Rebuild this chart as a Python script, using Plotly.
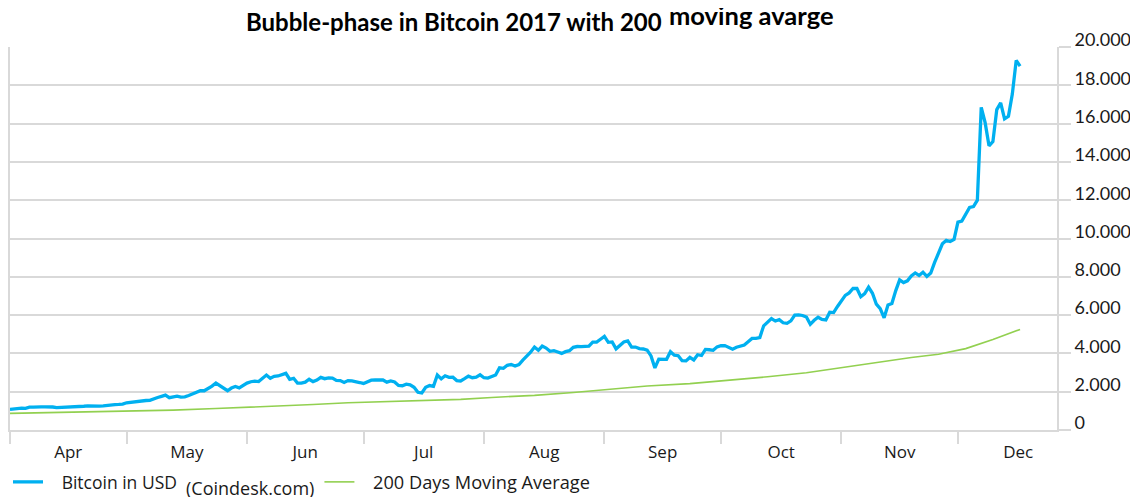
import pandas as pd
import plotly.graph_objects as go

# ---- data ----
months = ["Apr", "May", "Jun", "Jul", "Aug", "Sep", "Oct", "Nov", "Dec"]

btc_apr = [1080, 1100, 1145, 1140, 1130, 1190, 1190, 1180, 1205, 1205, 1210, 1200, 1170, 1175, 1180,
           1180, 1195, 1205, 1210, 1240, 1255, 1240, 1250, 1250, 1265, 1285, 1340, 1330, 1335, 1350]
btc_may = [1420, 1450, 1480, 1520, 1520, 1540, 1550, 1640, 1700, 1760, 1820, 1690, 1730, 1770, 1720,
           1730, 1800, 1880, 1960, 2050, 2050, 2150, 2290, 2450, 2320, 2200, 2050, 2190, 2270, 2200, 2330]
btc_jun = [2450, 2520, 2550, 2530, 2700, 2870, 2700, 2800, 2820, 2900, 2960, 2650, 2700, 2450, 2450,
           2500, 2650, 2530, 2610, 2750, 2680, 2720, 2710, 2590, 2580, 2480, 2580, 2560, 2540, 2480]
btc_jul = [2430, 2530, 2600, 2610, 2610, 2610, 2500, 2560, 2510, 2330, 2310, 2390, 2360, 2230, 1970,
           1930, 2230, 2320, 2280, 2870, 2670, 2830, 2750, 2760, 2580, 2560, 2680, 2810, 2730, 2760, 2880]
btc_aug = [2730, 2710, 2800, 2870, 3250, 3220, 3380, 3420, 3340, 3420, 3650, 3850, 4060, 4330, 4160,
           4380, 4280, 4110, 4140, 4070, 4000, 4090, 4140, 4320, 4360, 4350, 4380, 4380, 4590, 4590, 4740]
btc_sep = [4890, 4580, 4600, 4240, 4400, 4600, 4650, 4330, 4330, 4250, 4230, 4170, 3870, 3240, 3700,
           3690, 3690, 4090, 3910, 3880, 3620, 3610, 3790, 3660, 3930, 3890, 4210, 4190, 4160, 4340]
btc_oct = [4400, 4410, 4310, 4220, 4320, 4370, 4440, 4610, 4780, 4780, 4830, 5440, 5640, 5820, 5690,
           5760, 5600, 5570, 5700, 6000, 6010, 5980, 5900, 5520, 5730, 5890, 5770, 5750, 6150, 6130, 6450]
btc_nov = [6750, 7030, 7160, 7390, 7390, 6960, 7120, 7460, 7140, 6570, 6340, 5860, 6530, 6610, 7280,
           7840, 7700, 7790, 8040, 8200, 8070, 8240, 8020, 8200, 8750, 9290, 9720, 9900, 9840, 9950]
btc_dec = [10860, 10910, 11240, 11620, 11670, 12000, 16850, 16050, 14840, 15060, 16730, 17080, 16250,
           16380, 17540, 19300, 19000]

ma_dates = ["2017-04-01", "2017-04-24", "2017-05-13", "2017-05-24", "2017-06-03", "2017-06-10",
            "2017-06-18", "2017-06-27", "2017-07-06", "2017-07-16", "2017-07-26", "2017-08-03",
            "2017-08-14", "2017-08-24", "2017-09-02", "2017-09-12", "2017-09-23", "2017-10-04",
            "2017-10-13", "2017-10-23", "2017-11-01", "2017-11-10", "2017-11-19", "2017-11-26",
            "2017-12-03", "2017-12-10", "2017-12-17"]
ma_values = [870, 950, 1040, 1120, 1190, 1250, 1330, 1420, 1480, 1520, 1600, 1700, 1810, 1960, 2130,
             2300, 2420, 2600, 2780, 2990, 3260, 3510, 3790, 3960, 4250, 4730, 5250]

y_ticks = [0, 2000, 4000, 6000, 8000, 10000, 12000, 14000, 16000, 18000, 20000]

btc_values = btc_apr + btc_may + btc_jun + btc_jul + btc_aug + btc_sep + btc_oct + btc_nov + btc_dec
btc_dates = pd.date_range("2017-04-01", periods=len(btc_values), freq="D")

month_starts = pd.date_range("2017-04-01", "2017-12-01", freq="MS")
month_mids = [d + pd.Timedelta(days=d.days_in_month / 2) for d in month_starts]

BLUE = "#00B0F0"
GREEN = "#92D050"
GRID = "#D9D9D9"
TXT = "#1A1A1A"

# the page body adds an 8px offset; figure coordinates = page coordinates - 8
OFF = 8
W, H = 1138 - OFF, 497 - OFF
PL, PR, PT, PB = 10 - OFF, 1057 - OFF, 46.5 - OFF, 430 - OFF
PW, PH = PR - PL, PB - PT

fig = go.Figure()
fig.add_trace(go.Scatter(
    x=btc_dates, y=btc_values, mode="lines",
    name=("&nbsp;&nbsp;&nbsp;Bitcoin in USD&nbsp;&nbsp;"
          "<sub><sub><span style='font-size:18px'>(Coindesk.com)</span></sub></sub>"),
    line=dict(color=BLUE, width=3.3)))
fig.add_trace(go.Scatter(
    x=pd.to_datetime(ma_dates), y=ma_values, mode="lines",
    name="&nbsp;&nbsp;&nbsp;<span style='font-size:18.2px'>200 Days Moving Average</span>",
    line=dict(color=GREEN, width=1.6)))

fig.update_layout(
    width=W, height=H,
    margin=dict(l=PL, r=W - PR, t=PT, b=H - PB, autoexpand=False),
    paper_bgcolor="white", plot_bgcolor="white",
    separators=",.",
    showlegend=True,
    legend=dict(orientation="h", xref="container", yref="container",
                x=0.0, y=(H - (482 - OFF)) / H, xanchor="left", yanchor="middle",
                font=dict(family="Open Sans", size=17.5, color=TXT),
                bgcolor="rgba(0,0,0,0)"),
    xaxis=dict(
        type="date", automargin=False,
        range=["2017-04-01", "2017-12-26 12:00"],
        tickmode="array", tickvals=month_mids, ticktext=months,
        ticks="", showgrid=False,
        showline=True, linecolor=GRID, linewidth=2,
        tickfont=dict(family="Open Sans", size=17, color=TXT),
        ticklabelstandoff=6,
        minor=dict(tickmode="array", tickvals=month_starts, ticks="outside",
                   ticklen=12, tickwidth=2, tickcolor=GRID, showgrid=False),
    ),
    yaxis=dict(
        side="right", range=[0, 20000], automargin=False,
        tickmode="array", tickvals=y_ticks, tickformat=",d",
        showgrid=True, gridcolor=GRID, gridwidth=2, zeroline=False,
        showline=True, linecolor=GRID, linewidth=2, mirror=True,
        ticks="outside", ticklen=12, tickwidth=2, tickcolor=GRID,
        tickfont=dict(family="Lato", size=18, color=TXT),
        ticklabelshift=-7, ticklabelstandoff=0,
    ),
    annotations=[
        dict(text="<b>Bubble-phase in Bitcoin 2017 with 200</b>", xref="paper", yref="paper",
             x=(663 - OFF - PL) / PW, y=(PB - (21 - OFF)) / PH, xanchor="right", yanchor="middle",
             showarrow=False, borderpad=0, font=dict(family="Lato", size=24, color="black")),
        dict(text="<b>moving avarge</b>", xref="paper", yref="paper",
             x=(668 - OFF - PL) / PW, y=(PB - (14.5 - OFF)) / PH, xanchor="left", yanchor="middle",
             showarrow=False, borderpad=0, font=dict(family="Lato", size=25.5, color="black")),
    ],
)

fig.write_html("out.html")
